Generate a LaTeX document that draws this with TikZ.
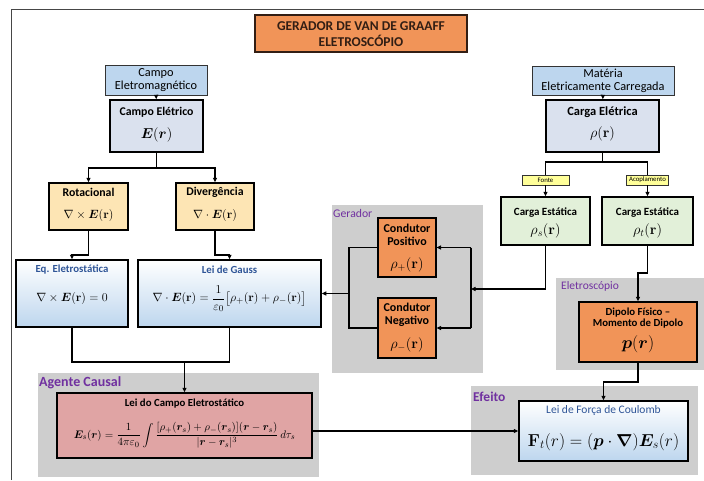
\documentclass[tikz,border=0pt]{standalone}
\usepackage{amsmath,bm}
\usepackage[no-math]{fontspec}
\setmainfont{Carlito}
\usetikzlibrary{arrows.meta}

\definecolor{orangeBox}{RGB}{241,148,88}
\definecolor{hdrBlue}{RGB}{189,214,238}
\definecolor{fieldBlue}{RGB}{218,225,238}
\definecolor{beigeBox}{RGB}{253,229,180}
\definecolor{tagYellow}{RGB}{255,255,153}
\definecolor{greenBox}{RGB}{226,240,217}
\definecolor{pinkBox}{RGB}{224,164,164}
\definecolor{regionGray}{RGB}{206,206,206}
\definecolor{labPurple}{RGB}{112,48,160}
\definecolor{labBlue}{RGB}{47,85,151}
\definecolor{titleInk}{RGB}{50,30,20}
\definecolor{frameInk}{RGB}{70,70,70}

\newcommand{\fsz}[1]{\fontsize{#1}{#1}\selectfont}

\begin{document}
\begin{tikzpicture}[x=1pt,y=-1pt,
  box/.style={draw=black, line width=1.5pt, inner sep=0pt},
  thinbox/.style={draw=black!80, line width=1pt, inner sep=0pt},
  gradbox/.style={box, top color=white, middle color=white, bottom color=hdrBlue},
  region/.style={fill=regionGray, inner sep=0pt},
  txt/.style={inner sep=0pt, align=center},
  ttl/.style={txt, font=\fsz{11.8}\bfseries},
  hdr/.style={txt, font=\fsz{12.3}},
  blab/.style={txt, text=labBlue, font=\fsz{10.8}\bfseries},
  math/.style={txt, font=\fsz{15}},
  plab/.style={txt, anchor=west, text=labPurple},
  wire/.style={line width=1.4pt, draw=black},
  arr/.style={wire, -{Triangle[length=4.5pt,width=4pt]}}
]
\useasboundingbox (0,0) rectangle (704,480);

% page frame
\draw[frameInk, line width=0.9pt] (11,480) -- (11,9) -- (704,9);

% shaded groups
\node[region, minimum width=151pt, minimum height=168pt] (gerR) at (407.5,289) {};
\node[plab, font=\fsz{11.7}] (gerL) at (333,213) {Gerador};
\node[region, minimum width=148pt, minimum height=92pt] (eleR) at (630,324) {};
\node[plab, font=\fsz{11.5}] (eleL) at (561,286.5) {Eletroscópio};
\node[region, minimum width=281pt, minimum height=104pt] (ageR) at (178.5,425) {};
\node[plab, font=\fsz{14}\bfseries] (ageL) at (39,383) {Agente Causal};
\node[region, minimum width=227pt, minimum height=89pt] (efeR) at (584.5,430.5) {};
\node[plab, font=\fsz{13.5}\bfseries] (efeL) at (473,397) {Efeito};

% title
\node[box, draw=titleInk, fill=orangeBox, minimum width=212pt, minimum height=37pt] (title) at (361,33.5) {};
\node[txt, text=titleInk, font=\fsz{13.5}\bfseries] (titleA) at (361,26.5) {GERADOR DE VAN DE GRAAFF};
\node[txt, text=titleInk, font=\fsz{13.5}\bfseries] (titleB) at (361,40.5) {ELETROSCÓPIO};

% left column: field
\node[thinbox, fill=hdrBlue, minimum width=102pt, minimum height=30pt] (cem) at (156,80) {};
\node[hdr] (cemT) at (156,80) {Campo\\[1pt]Eletromagnético};
\node[box, fill=fieldBlue, minimum width=93pt, minimum height=52pt] (cel) at (156.5,126) {};
\node[ttl] (celT) at (156.5,112) {Campo Elétrico};
\node[math, font=\fsz{15.5}] (celM) at (156.5,135) {$\bm{E}(\bm{r})$};

\node[box, fill=beigeBox, minimum width=79pt, minimum height=47pt] (rot) at (88.5,206.5) {};
\node[ttl] (rotT) at (88.5,192) {Rotacional};
\node[math, font=\fsz{12.5}] (rotM) at (88.5,215) {$\nabla\times\bm{E}(\mathbf{r})$};
\node[box, fill=beigeBox, minimum width=78pt, minimum height=47pt] (div) at (215,206.5) {};
\node[ttl] (divT) at (215,192) {Divergência};
\node[math, font=\fsz{12.5}] (divM) at (215,215) {$\nabla\cdot\bm{E}(\mathbf{r})$};

\node[gradbox, minimum width=112pt, minimum height=67pt] (eqe) at (72,293.5) {};
\node[blab] (eqeT) at (72,270) {Eq. Eletrostática};
\node[math, font=\fsz{12.5}] (eqeM) at (72,298) {$\nabla\times\bm{E}(\mathbf{r})=0$};
\node[gradbox, minimum width=183pt, minimum height=67pt] (gau) at (229.5,293.5) {};
\node[blab] (gauT) at (229.5,270) {Lei de Gauss};
\node[math, font=\fsz{12.4}] (gauM) at (229.5,299) {$\nabla\cdot\bm{E}(\mathbf{r})=\dfrac{1}{\varepsilon_0}\bigl[\rho_+(\mathbf{r})+\rho_-(\mathbf{r})\bigr]$};

% generator conductors
\node[box, line width=1.2pt, fill=orangeBox, minimum width=58pt, minimum height=59pt] (cpos) at (407,247.5) {};
\node[ttl, font=\fsz{12}\bfseries] (cposT) at (407,234.5) {Condutor\\[1pt]Positivo};
\node[math, font=\fsz{14.8}] (cposM) at (407,265) {$\rho_+(\mathbf{r})$};
\node[box, line width=1.2pt, fill=orangeBox, minimum width=58pt, minimum height=60pt] (cneg) at (407,328) {};
\node[ttl, font=\fsz{12}\bfseries] (cnegT) at (407,315) {Condutor\\[1pt]Negativo};
\node[math, font=\fsz{14.8}] (cnegM) at (407,345) {$\rho_-(\mathbf{r})$};

% right column: charge
\node[thinbox, fill=hdrBlue, minimum width=142pt, minimum height=29pt] (mat) at (603,80.5) {};
\node[hdr] (matT) at (603,80.5) {Matéria\\[1pt]Eletricamente Carregada};
\node[box, fill=fieldBlue, minimum width=113pt, minimum height=52pt] (cae) at (602.5,126) {};
\node[ttl, font=\fsz{12.5}\bfseries] (caeT) at (602.5,112) {Carga Elétrica};
\node[math, font=\fsz{15.5}] (caeM) at (602.5,134) {$\rho(\mathbf{r})$};

\node[draw=black!80, line width=0.7pt, fill=tagYellow, inner sep=0pt, minimum width=47pt, minimum height=10pt, font=\fsz{6.8}] (fon) at (545.5,180) {Fonte};
\node[draw=black!80, line width=0.7pt, fill=tagYellow, inner sep=0pt, minimum width=42pt, minimum height=10pt, font=\fsz{6.8}] (aco) at (647.5,180) {Acoplamento};

\node[box, fill=greenBox, minimum width=89pt, minimum height=48pt] (cs) at (545.5,221) {};
\node[ttl, font=\fsz{11}\bfseries] (csT) at (545.5,213) {Carga Estática};
\node[math, font=\fsz{14.5}] (csM) at (545.5,231) {$\rho_s(\mathbf{r})$};
\node[box, fill=greenBox, minimum width=91pt, minimum height=48pt] (ct) at (647.5,221) {};
\node[ttl, font=\fsz{11}\bfseries] (ctT) at (647.5,213) {Carga Estática};
\node[math, font=\fsz{14.5}] (ctM) at (647.5,231) {$\rho_t(\mathbf{r})$};

\node[box, fill=orangeBox, minimum width=118pt, minimum height=60pt] (dip) at (638,332) {};
\node[ttl, font=\fsz{10.8}\bfseries] (dipT) at (638,318) {Dipolo Físico –\\[1pt]Momento de Dipolo};
\node[math, font=\fsz{16}] (dipM) at (638,344) {$\bm{p}(\bm{r})$};

% electrostatic field law
\node[box, fill=pinkBox, minimum width=255pt, minimum height=65pt] (campo) at (184.5,425.5) {};
\node[ttl, font=\fsz{10.8}\bfseries] (campoT) at (184.5,403.5) {Lei do Campo Eletrostático};
\node[math, font=\fsz{11.2}] (campoM) at (184.5,435.5) {$\displaystyle \bm{E}_s(\bm{r})=\frac{1}{4\pi\varepsilon_0}\int\frac{[\rho_+(\bm{r}_s)+\rho_-(\bm{r}_s)](\bm{r}-\bm{r}_s)}{|\bm{r}-\bm{r}_s|^3}\,d\tau_s$};

% Coulomb force
\node[gradbox, minimum width=169pt, minimum height=60pt] (coul) at (603.5,431) {};
\node[txt, text=labBlue, font=\fsz{11.5}] (coulT) at (603.5,410) {Lei de Força de Coulomb};
\node[math, font=\fsz{16.5}] (coulM) at (603.5,442) {$\mathbf{F}_t(r)=(\bm{p}\cdot\bm{\nabla})\bm{E}_s(r)$};

% connectors: field side
\draw[arr] (cem) -- (cel);
\coordinate (celB) at (156.5,168);
\draw[wire] (cel.south) -- (celB);
\draw[arr] (celB) -| (rot.north);
\draw[arr] (celB) -| (div.north);
\draw[arr] (rot.south) |- (72,255) -- (eqe.north);
\draw[arr] (div.south) |- (229.5,255) -- (gau.north);
\coordinate (joinL) at (72,362);
\coordinate (joinR) at (229.5,362);
\draw[wire] (eqe.south) -- (joinL) -- (joinR) -- (gau.south);
\draw[arr] (campo.north |- joinL) -- (campo.north);

% connectors: charge side
\draw[arr] (mat) -- (cae);
\coordinate (caeB) at (602.5,162);
\draw[wire] (cae.south) -- (caeB);
\draw[wire] (caeB) -| (fon.north);
\draw[wire] (caeB) -| (aco.north);
\draw[arr] (fon) -- (cs);
\draw[arr] (aco) -- (ct);

% generator buses
\coordinate (busR) at (471,289);
\draw[wire] (471,247.5) -- (471,328);
\draw[arr] (471,247.5) -- (cpos.east);
\draw[arr] (471,328) -- (cneg.east);
\draw[arr] (cs.south) |- (busR);
\draw[wire] (cpos.west) -| (349,328) -- (cneg.west);
\draw[arr] (349,293.5) -- (gau.east);

% electroscope and effect
\draw[arr] (ct.south) |- (638,273) -- (dip.north);
\draw[arr] (dip.south) |- (603.5,382) -- (coul.north);
\draw[arr] (campo.east |- coul.west) -- (coul.west);
\end{tikzpicture}
\end{document}
